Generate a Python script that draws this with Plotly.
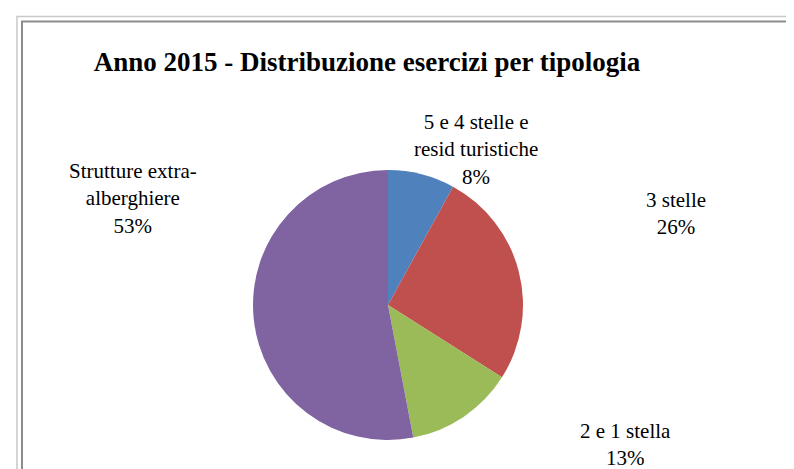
import plotly.graph_objects as go

categories = ["5 e 4 stelle e<br>resid turistiche", "3 stelle", "2 e 1 stella", "Strutture extra-<br>alberghiere"]
values = [8, 26, 13, 53]
colors = ["#4F81BD", "#C0504D", "#9BBB59", "#8064A2"]

W, H = 794, 469
SERIF = "Liberation Serif, Times New Roman, DejaVu Serif, serif"

fig = go.Figure()
fig.add_trace(go.Pie(
    labels=categories,
    values=values,
    sort=False,
    direction="clockwise",
    rotation=0,
    marker=dict(colors=colors, line=dict(width=0)),
    textinfo="none",
    hoverinfo="label+percent",
    showlegend=False,
    domain=dict(x=[245 / W, 515 / W], y=[(H - 432) / H, (H - 162) / H]),
))

# label centre positions (pixels) for annotations
label_pos = [(468, 141), (668, 205), (617, 436), (125, 190)]
for cat, v, (px, py) in zip(categories, values, label_pos):
    fig.add_annotation(
        x=px / W, y=1 - py / H, xref="paper", yref="paper",
        xanchor="center", yanchor="middle",
        text=f"{cat}<br>{v}%", showarrow=False,
        font=dict(family=SERIF, size=21, color="#000000"),
        align="center",
    )

fig.add_shape(type="rect", xref="paper", yref="paper",
              x0=9 / W, y0=1 - 8.5 / H, x1=1.05, y1=-0.05,
              line=dict(color="#C8C8C8", width=1.5))
fig.add_shape(type="rect", xref="paper", yref="paper",
              x0=14 / W, y0=1 - 13.5 / H, x1=1.05, y1=-0.05,
              line=dict(color="#8C8C8C", width=2))

fig.update_layout(
    width=W, height=H,
    margin=dict(l=0, r=0, t=0, b=0),
    paper_bgcolor="white",
    plot_bgcolor="white",
    font=dict(family=SERIF, color="#000000"),
    title=dict(
        text="<b>Anno 2015 - Distribuzione esercizi per tipologia</b>",
        x=359 / W, xanchor="center", y=1 - 54 / H, yanchor="middle",
        font=dict(family=SERIF, size=27, color="#000000"),
    ),
)

fig.write_html("out.html")
